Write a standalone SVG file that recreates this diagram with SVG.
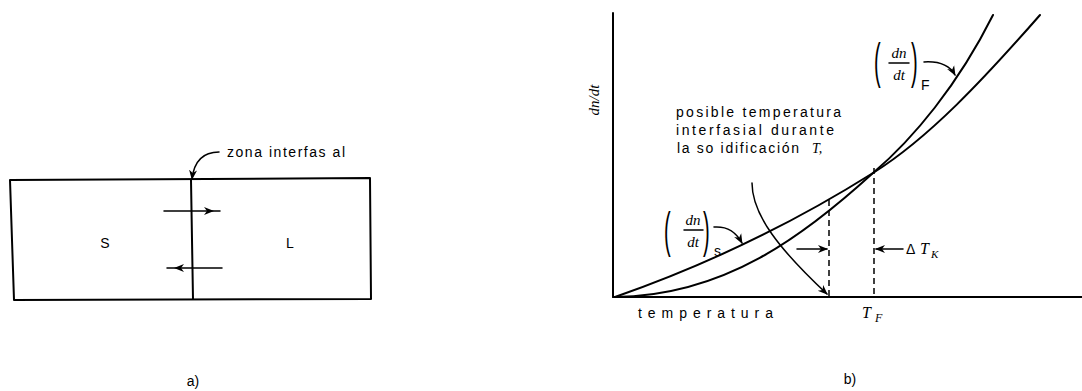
<svg xmlns="http://www.w3.org/2000/svg" width="1082" height="391" viewBox="0 0 1082 391">
<defs>
<style>
.ln{fill:none;stroke:#000;stroke-width:2;stroke-linejoin:round;stroke-linecap:round}
.th{fill:none;stroke:#000;stroke-width:1.5;stroke-linecap:round}
.ds{fill:none;stroke:#000;stroke-width:1.5;stroke-dasharray:6 4}
.t{font-family:"Liberation Sans",Arial,sans-serif;font-size:14px;fill:#000}
.m{font-family:"Liberation Serif","Times New Roman",serif;font-style:italic;fill:#000}
.p{font-family:"Liberation Sans",Arial,sans-serif;font-size:20px;fill:#000}
</style>
<marker id="ah" viewBox="0 0 10 10" refX="9" refY="5" markerWidth="10" markerHeight="10" markerUnits="userSpaceOnUse" orient="auto">
<path d="M0,1 L10,5 L0,9 L3,5 Z" fill="#000"/>
</marker>
</defs>

<g id="panel-a">
<polygon class="ln" points="10,180 370,178 371,299 14,300"/>
<line class="ln" x1="191" y1="180" x2="193" y2="299"/>
<text class="t" x="105" y="248" text-anchor="middle" font-size="16">S</text>
<text class="t" x="290" y="248" text-anchor="middle" font-size="16">L</text>
<text class="t" x="227" y="157" textLength="118" lengthAdjust="spacing">zona interfas al</text>
<text class="t" x="193" y="386" text-anchor="middle" font-size="20">a)</text>
</g>

<g id="panel-b">
<line class="ln" x1="613" y1="13" x2="613" y2="297"/>
<line class="ln" x1="613" y1="297" x2="1082" y2="297"/>
<text class="m" font-size="15" transform="translate(599,100) rotate(-90)" text-anchor="middle">dn/dt</text>
<text class="t" x="638" y="318" textLength="135" lengthAdjust="spacing">temperatura</text>
<text class="m" x="862" y="318" font-size="16">T</text>
<text class="m" x="875" y="322" font-size="12">F</text>
<text class="t" x="676" y="117" textLength="165" lengthAdjust="spacing">posible temperatura</text>
<text class="t" x="676" y="135" textLength="158" lengthAdjust="spacing">interfasial durante</text>
<text class="t" x="677" y="153" textLength="122" lengthAdjust="spacing">la so idificación</text>
<text class="m" x="812" y="153" font-size="14">T,</text>
<text class="t" x="906" y="254" font-size="14">Δ</text>
<text class="m" x="920" y="254" font-size="16">T</text>
<text class="m" x="931" y="258" font-size="11">K</text>
<text class="t" x="850" y="384" text-anchor="middle" font-size="20">b)</text>
</g>

<g id="label-F">
<text class="p" transform="translate(874,78) scale(1,2.5)">(</text>
<text class="p" transform="translate(911,78) scale(1,2.5)">)</text>
<text class="m" x="899" y="58" font-size="15" text-anchor="middle">dn</text>
<line class="th" x1="889" y1="63" x2="909" y2="63"/>
<text class="m" x="899" y="80" font-size="15" text-anchor="middle">dt</text>
<text class="t" x="921" y="90" font-size="15">F</text>
</g>

<g id="label-S">
<text class="p" transform="translate(664,247) scale(1,2.5)">(</text>
<text class="p" transform="translate(703,247) scale(1,2.5)">)</text>
<text class="m" x="693" y="225" font-size="15" text-anchor="middle">dn</text>
<line class="th" x1="684" y1="230" x2="703" y2="230"/>
<text class="m" x="693" y="247" font-size="15" text-anchor="middle">dt</text>
<text class="t" x="714" y="256" font-size="13">s</text>
</g>

<g id="connectors">
<path class="th" d="M164,211 L213,211 L220,211" marker-mid="url(#ah)"/>
<path class="th" d="M222,268 L175,268 L167,268" marker-mid="url(#ah)"/>
<path class="th" d="M219,152 C203,152 194,162 192,179" marker-end="url(#ah)"/>
<path class="ln" d="M615,297 C701,267 787,227 873,173 C929,138 984,79 1040,15"/>
<path class="ln" d="M615,297 C725,296 805,235 873,173 C913,139 958,85 993,15"/>
<line class="ds" x1="829" y1="200" x2="829" y2="297"/>
<line class="ds" x1="874" y1="168" x2="874" y2="297"/>
<path class="th" d="M797,249 L827,249" marker-end="url(#ah)"/>
<path class="th" d="M903,249 L876,249" marker-end="url(#ah)"/>
<path class="th" d="M752,183 C752,215 780,250 827,294" marker-end="url(#ah)"/>
<path class="th" d="M924,62 C940,61 950,66 955,75" marker-end="url(#ah)"/>
<path class="th" d="M714,227 C728,226 736,232 742,243" marker-end="url(#ah)"/>
</g>
</svg>
